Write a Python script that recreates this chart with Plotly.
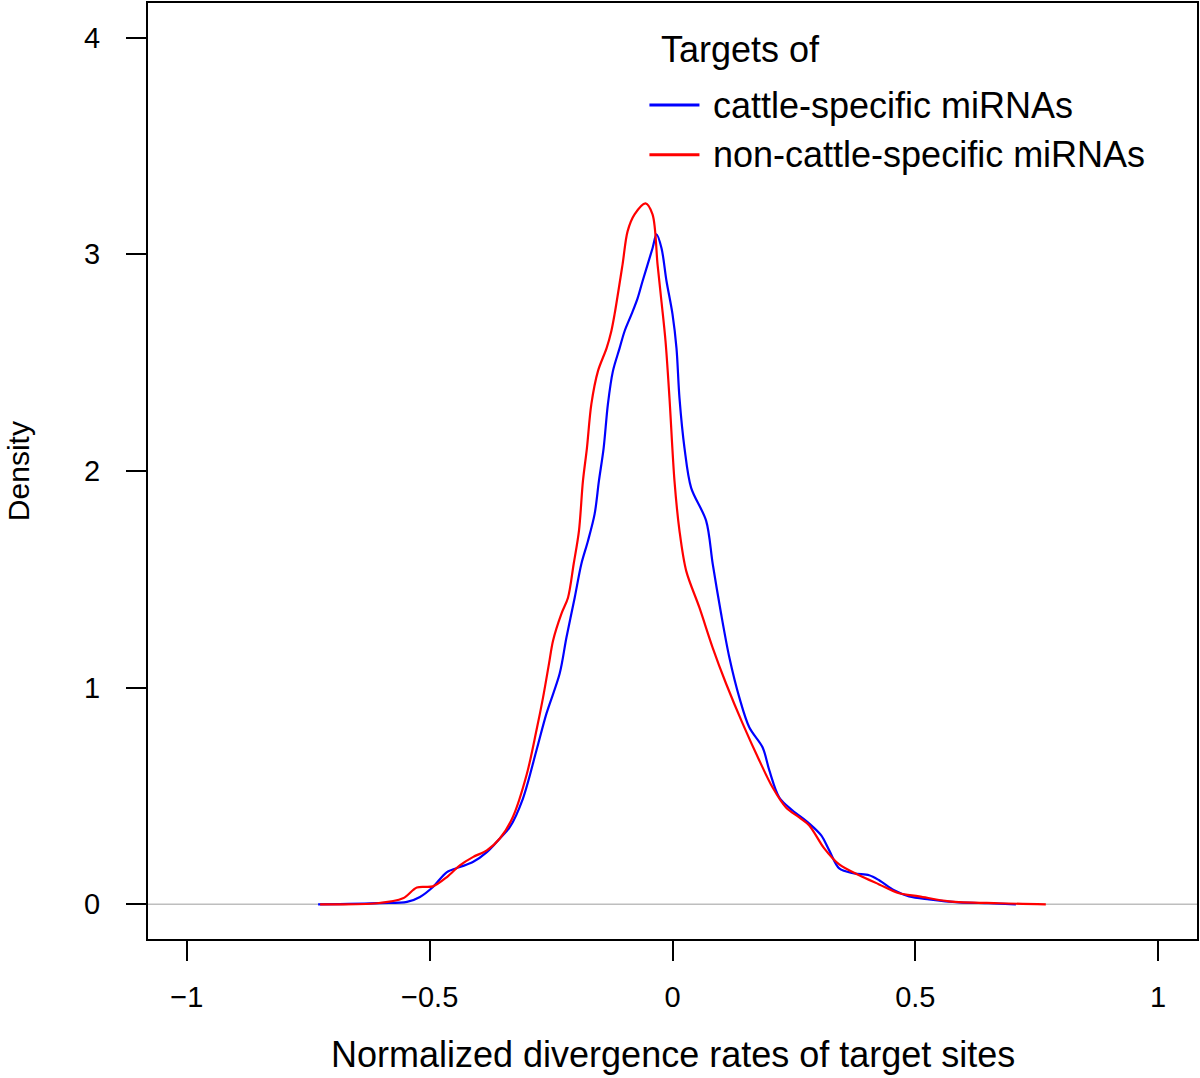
import plotly.graph_objects as go

# Blue: targets of cattle-specific miRNAs (density estimate)
blue_x = [-0.7297, -0.6023, -0.5468, -0.5200, -0.4933, -0.4645, -0.4378, -0.4111, -0.3823, -0.3556,
          -0.3351, -0.3083, -0.2802, -0.2596, -0.2323, -0.2185, -0.2014, -0.1877, -0.1741, -0.1603,
          -0.1515, -0.1418, -0.1330, -0.1227, -0.1089, -0.0987, -0.0843, -0.0719, -0.0617, -0.0411,
          -0.0329, -0.0226, -0.0123, 0.0, 0.0082, 0.0144, 0.0247, 0.0384, 0.0693, 0.0828,
          0.1001, 0.1172, 0.1377, 0.1583, 0.1856, 0.1994, 0.2199, 0.2473, 0.2816, 0.3063,
          0.3227, 0.3433, 0.3741, 0.4049, 0.4255, 0.4563, 0.4871, 0.5283, 0.5899, 0.6516,
          0.7071]
blue_y = [0.0, 0.006, 0.011, 0.034, 0.080, 0.149, 0.172, 0.195, 0.241, 0.304,
          0.356, 0.486, 0.710, 0.880, 1.065, 1.230, 1.415, 1.571, 1.677, 1.802,
          1.954, 2.106, 2.309, 2.461, 2.567, 2.645, 2.724, 2.797, 2.876, 3.028,
          3.092, 3.028, 2.876, 2.724, 2.567, 2.336, 2.106, 1.922, 1.770, 1.571,
          1.341, 1.138, 0.954, 0.816, 0.724, 0.618, 0.493, 0.433, 0.373, 0.318,
          0.249, 0.166, 0.143, 0.134, 0.111, 0.065, 0.037, 0.023, 0.009, 0.005,
          0.0]

# Red: targets of non-cattle-specific miRNAs
red_x = [-0.7256, -0.6084, -0.5550, -0.5262, -0.4933, -0.4645, -0.4378, -0.4111, -0.3823, -0.3556,
         -0.3289, -0.3001, -0.2802, -0.2666, -0.2543, -0.2460, -0.2288, -0.2152, -0.2035, -0.1926,
         -0.1844, -0.1762, -0.1671, -0.1535, -0.1357, -0.1260, -0.1192, -0.1028, -0.0925, -0.0781,
         -0.0555, -0.0411, -0.0308, -0.0226, -0.0144, -0.0062, 0.0041, 0.0144, 0.0282, 0.0555,
         0.0828, 0.1104, 0.1445, 0.1788, 0.2062, 0.2337, 0.2610, 0.2816, 0.3124, 0.3433,
         0.3844, 0.4255, 0.4666, 0.5077, 0.5694, 0.6721, 0.7687]
red_y = [0.0, 0.005, 0.028, 0.078, 0.083, 0.126, 0.180, 0.218, 0.249, 0.304,
         0.402, 0.600, 0.802, 0.954, 1.111, 1.217, 1.341, 1.415, 1.571, 1.724,
         1.954, 2.106, 2.309, 2.461, 2.567, 2.645, 2.724, 2.954, 3.106, 3.184,
         3.235, 3.184, 2.954, 2.780, 2.600, 2.336, 1.954, 1.724, 1.539, 1.369,
         1.184, 1.018, 0.834, 0.664, 0.539, 0.447, 0.401, 0.364, 0.258, 0.184,
         0.134, 0.092, 0.051, 0.037, 0.014, 0.005, 0.0]

x_ticks = [-1, -0.5, 0, 0.5, 1]
x_ticktext = ["\u22121", "\u22120.5", "0", "0.5", "1"]
y_ticks = [0, 1, 2, 3, 4]
y_ticktext = ["0", "1", "2", "3", "4"]

series_names = ["cattle-specific miRNAs", "non-cattle-specific miRNAs"]
series_colors = ["#0000FF", "#FF0000"]
legend_title = "Targets of"
x_title = "Normalized divergence rates of target sites"
y_title = "Density"

FONT = "Liberation Sans, Arial, Helvetica, sans-serif"

fig = go.Figure()
for xs, ys, name, col in [(blue_x, blue_y, series_names[0], series_colors[0]),
                          (red_x, red_y, series_names[1], series_colors[1])]:
    fig.add_trace(go.Scatter(x=xs, y=ys, mode="lines", name=name,
                             line=dict(color=col, width=2.2, shape="spline", smoothing=0.9)))

# horizontal grey reference line at density 0
fig.add_hline(y=0, line=dict(color="#BEBEBE", width=1.5), layer="below")

# manual legend (R-style, no box)
annotations = [
    dict(text=legend_title, xref="paper", yref="paper", x=0.4876, y=0.950,
         xanchor="left", yanchor="middle", showarrow=False, font=dict(size=36)),
    dict(text=x_title, xref="paper", yref="paper", x=0.5, y=-0.1237,
         xanchor="center", yanchor="middle", showarrow=False, font=dict(size=36)),
    dict(text=y_title, xref="paper", yref="paper", x=-0.1238, y=0.5,
         xanchor="center", yanchor="middle", textangle=-90, showarrow=False,
         font=dict(size=30)),
]
shapes = []
legend_rows_y = [0.891, 0.838]
for name, col, yy in zip(series_names, series_colors, legend_rows_y):
    shapes.append(dict(type="line", xref="paper", yref="paper", x0=0.478, x1=0.5257,
                       y0=yy, y1=yy, line=dict(color=col, width=3)))
    annotations.append(dict(text=name, xref="paper", yref="paper", x=0.537, y=yy,
                            xanchor="left", yanchor="middle", showarrow=False,
                            font=dict(size=36)))

fig.update_layout(
    width=1200, height=1078,
    margin=dict(l=148, r=2, t=1, b=139, pad=0),
    paper_bgcolor="white", plot_bgcolor="white",
    font=dict(family=FONT, color="black", size=28),
    showlegend=False,
    annotations=annotations,
    shapes=list(fig.layout.shapes) + shapes,
    xaxis=dict(
        range=[-1.08, 1.08], tickvals=x_ticks, ticktext=x_ticktext,
        ticks="outside", ticklen=20, tickwidth=2, tickcolor="black",
        showline=True, linecolor="black", linewidth=2, mirror=True,
        showgrid=False, zeroline=False,
        tickfont=dict(size=29), ticklabelstandoff=11,
    ),
    yaxis=dict(
        range=[-0.16, 4.16], tickvals=y_ticks, ticktext=y_ticktext,
        ticks="outside", ticklen=20, tickwidth=2, tickcolor="black",
        showline=True, linecolor="black", linewidth=2, mirror=True,
        showgrid=False, zeroline=False,
        tickfont=dict(size=29), ticklabelstandoff=20,
    ),
)

fig.write_html("out.html", config={"displayModeBar": False},
               post_script="document.body.style.margin='0';")
